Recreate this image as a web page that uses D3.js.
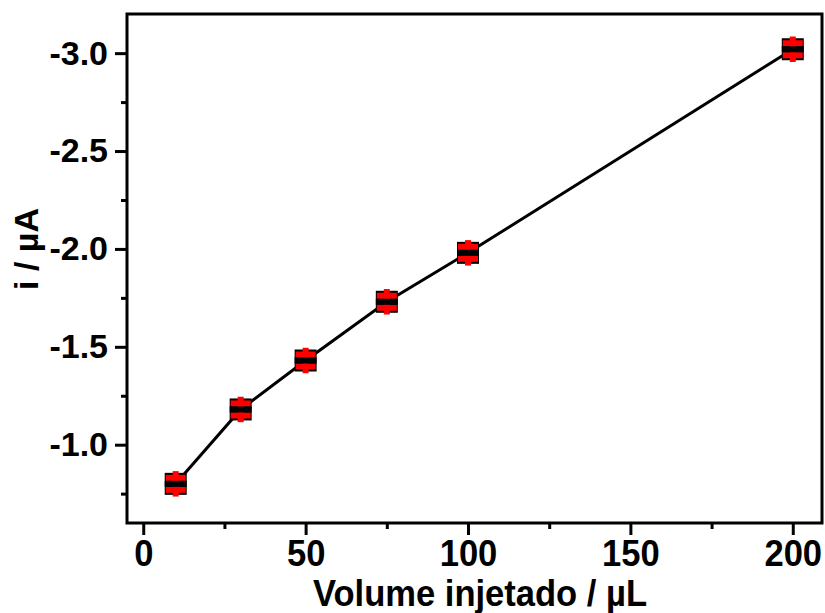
<!DOCTYPE html>
<html>
<head>
<meta charset="utf-8">
<script src="https://cdn.jsdelivr.net/npm/d3@7"></script>
<style>
  html, body { margin: 0; padding: 0; background: #fff; }
  svg { display: block; }
  text { font-family: "Liberation Sans", Arial, sans-serif; font-weight: bold; fill: #000; }
</style>
</head>
<body>
<svg id="chart" width="825" height="613"></svg>
<script>
// Data
const volumes = [10, 30, 50, 75, 100, 200];
const currents = [-0.80, -1.18, -1.43, -1.73, -1.98, -3.02];
const errors = [0.065, 0.065, 0.065, 0.065, 0.065, 0.065];
const xTicks = [0, 50, 100, 150, 200];
const xMinorTicks = [25, 75, 125, 175];
const yTicks = [-1.0, -1.5, -2.0, -2.5, -3.0];
const yMinorTicks = [-0.75, -1.25, -1.75, -2.25, -2.75];
const xTitle = "Volume injetado / µL";
const yTitle = "i / µA";

const svg = d3.select("#chart");
const m = { left: 127, right: 822, top: 14, bottom: 523 };

const x = d3.scaleLinear().domain([-5, 209]).range([m.left, m.right]);
const y = d3.scaleLinear().domain([-0.6, -3.2]).range([m.bottom, m.top]);

const fmtY = d => d.toFixed(1).replace("\u2212", "-");

// Axes
const xAxis = svg.append("g").attr("transform", `translate(0,${m.bottom})`)
  .call(d3.axisBottom(x).tickValues(xTicks).tickFormat(d => String(d)).tickSize(12).tickPadding(5));
const xMinor = svg.append("g").attr("transform", `translate(0,${m.bottom})`)
  .call(d3.axisBottom(x).tickValues(xMinorTicks).tickFormat("").tickSize(6));
const yAxis = svg.append("g").attr("transform", `translate(${m.left},0)`)
  .call(d3.axisLeft(y).tickValues(yTicks).tickFormat(fmtY).tickSize(12).tickPadding(7));
const yMinor = svg.append("g").attr("transform", `translate(${m.left},0)`)
  .call(d3.axisLeft(y).tickValues(yMinorTicks).tickFormat("").tickSize(6));

[xAxis, xMinor, yAxis, yMinor].forEach(g => {
  g.select(".domain").remove();
  g.selectAll(".tick line").attr("stroke", "#000").attr("stroke-width", 3);
});
xAxis.selectAll(".tick text")
  .attr("font-size", 36).attr("font-family", "Liberation Sans, Arial, sans-serif")
  .attr("font-weight", "bold").attr("fill", "#000")
  .attr("transform", "scale(0.96,1)");
yAxis.selectAll(".tick text")
  .attr("font-size", 34).attr("font-family", "Liberation Sans, Arial, sans-serif")
  .attr("font-weight", "bold").attr("fill", "#000");

// Line
const line = d3.line().x((d, i) => x(volumes[i])).y(d => y(d));
svg.append("path").datum(currents).attr("d", line)
  .attr("fill", "none").attr("stroke", "#000").attr("stroke-width", 3);

// Markers
const pts = volumes.map((v, i) => ({ v, c: currents[i], e: errors[i] }));
const sq = 22;
const g = svg.append("g");
pts.forEach(p => {
  const cx = x(p.v), cy = y(p.c);
  const yTop = y(p.c - p.e), yBot = y(p.c + p.e);
  g.append("rect").attr("x", cx - sq / 2).attr("y", cy - sq / 2).attr("width", sq).attr("height", sq).attr("fill", "#000");
  g.append("rect").attr("x", cx - 3).attr("y", yTop).attr("width", 6).attr("height", yBot - yTop).attr("fill", "#ff0000");
  g.append("rect").attr("x", cx - sq / 2 + 1).attr("y", cy - sq / 2 + 2).attr("width", sq - 2).attr("height", sq / 2 - 5).attr("fill", "#ff0000");
  g.append("rect").attr("x", cx - sq / 2 + 1).attr("y", cy + 3).attr("width", sq - 2).attr("height", sq / 2 - 5).attr("fill", "#ff0000");
  g.append("rect").attr("x", cx - sq / 2).attr("y", cy - 3).attr("width", sq).attr("height", 6).attr("fill", "#000");
});

// Frame
svg.append("rect").attr("x", m.left).attr("y", m.top)
  .attr("width", m.right - m.left).attr("height", m.bottom - m.top)
  .attr("fill", "none").attr("stroke", "#000").attr("stroke-width", 3);

// Titles
svg.append("text").attr("transform", "translate(480,606) scale(0.96,1)").attr("text-anchor", "middle")
  .attr("font-size", 36).text(xTitle);
svg.append("text").attr("transform", `translate(38,249) rotate(-90)`).attr("text-anchor", "middle")
  .attr("font-size", 34).text(yTitle);
</script>
</body>
</html>
